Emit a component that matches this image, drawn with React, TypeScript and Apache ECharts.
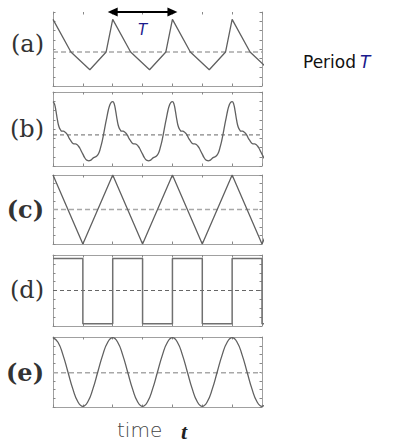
import React, { useEffect, useRef } from "react";
import * as echarts from "echarts";

// time axis in units of the period T
const X_MIN = 0;
const X_MAX = 3.5;
const X_TICK = 0.5;
const periodStarts = [0, 1, 2, 3];

const panelLabels = ["(a)", "(b)", "(c)", "(d)", "(e)"];
const panelLabelBold = [false, false, true, false, true];

// (a) sawtooth-like wave, one period (phase, value)
const phaseA = [0, 0.3, 0.617, 0.89];
const valueA = [0.9, 0.46, 0.22, 0.46];
const meanA = 0.46;

// (b) smooth wave, one period
const phaseB = [
  0, 0.025, 0.05, 0.075, 0.1, 0.125, 0.15, 0.175, 0.2, 0.225, 0.25, 0.275, 0.3, 0.325,
  0.35, 0.375, 0.4, 0.425, 0.45, 0.475, 0.5, 0.525, 0.55, 0.575, 0.6, 0.625, 0.65,
  0.675, 0.7, 0.725, 0.75, 0.775, 0.8, 0.825, 0.85, 0.875, 0.9, 0.925, 0.95, 0.975,
];
const valueB = [
  0.87, 0.84, 0.74, 0.62, 0.53, 0.49, 0.47, 0.47, 0.46, 0.44, 0.41, 0.37, 0.34, 0.31,
  0.3, 0.3, 0.29, 0.27, 0.24, 0.2, 0.16, 0.12, 0.09, 0.075, 0.07, 0.075, 0.09,
  0.11, 0.12, 0.13, 0.15, 0.19, 0.26, 0.34, 0.44, 0.55, 0.65, 0.75, 0.82, 0.86,
];
const meanB = 0.42;

// (c) triangle wave
const phaseC = [0, 0.5];
const valueC = [1, 0];
const meanC = 0.5;

// (d) square wave
const phaseD = [0, 0.5, 0.5, 1];
const valueD = [0.95, 0.95, 0.03, 0.03];
const meanD = 0.5;

// (e) cosine wave
const phaseE = [0, 0.0833, 0.1667, 0.25, 0.3333, 0.4167, 0.5, 0.5833, 0.6667, 0.75, 0.8333, 0.9167];
const valueE = [0.99, 0.925, 0.745, 0.5, 0.255, 0.075, 0.01, 0.075, 0.255, 0.5, 0.745, 0.925];
const meanE = 0.49;

const waves = [
  { phase: phaseA, value: valueA, mean: meanA, smooth: false },
  { phase: phaseB, value: valueB, mean: meanB, smooth: true },
  { phase: phaseC, value: valueC, mean: meanC, smooth: false },
  { phase: phaseD, value: valueD, mean: meanD, smooth: false },
  { phase: phaseE, value: valueE, mean: meanE, smooth: true },
];

function tile(phase: number[], value: number[]) {
  const out: number[][] = [];
  periodStarts.forEach((k) => {
    phase.forEach((p, j) => out.push([k + p, value[j]]));
  });
  const last = periodStarts[periodStarts.length - 1] + 1;
  out.push([last, value[0]]);
  return out;
}

const panels = [
  { top: 12, h: 74, labelY: 44, topLine: false },
  { top: 92, h: 74, labelY: 129, topLine: true },
  { top: 175, h: 69, labelY: 209, topLine: true },
  { top: 255, h: 71, labelY: 290, topLine: true },
  { top: 337, h: 70, labelY: 372, topLine: true },
];

const dashStyles = [
  { color: "#a8a8a8", width: 1.6, type: [5, 3] },
  { color: "#666", width: 1, type: [4, 3] },
  { color: "#a8a8a8", width: 1.6, type: [5, 3] },
  { color: "#666", width: 1, type: [4, 3] },
  { color: "#a8a8a8", width: 1.6, type: [5, 3] },
];

export default function App() {
  const ref = useRef<HTMLDivElement>(null);
  useEffect(() => {
    if (!ref.current) return;
    const chart = echarts.init(ref.current, null, { renderer: "svg" });
    const GL = 53;
    const GW = 209;
    const grids: any[] = [];
    const xAxes: any[] = [];
    const yAxes: any[] = [];
    const series: any[] = [];
    const border = { color: "#a0a0a0", width: 1 };
    const tick = { inside: true, length: 2.5, lineStyle: { color: "#888", width: 1 } };
    panels.forEach((p, i) => {
      grids.push({ left: GL, top: p.top, width: GW, height: p.h, show: false });
      xAxes.push({
        type: "value", gridIndex: i, position: "bottom", min: X_MIN, max: X_MAX, interval: X_TICK,
        axisLine: { show: true, onZero: false, lineStyle: border },
        axisTick: tick, axisLabel: { show: false }, splitLine: { show: false },
      });
      xAxes.push({
        type: "value", gridIndex: i, position: "top", min: X_MIN, max: X_MAX, interval: X_TICK,
        axisLine: { show: p.topLine, onZero: false, lineStyle: border },
        axisTick: tick, axisLabel: { show: false }, splitLine: { show: false },
      });
      yAxes.push({
        type: "value", gridIndex: i, position: "left", min: 0, max: 1, interval: 0.125,
        axisLine: { show: true, onZero: false, lineStyle: border },
        axisTick: tick, axisLabel: { show: false }, splitLine: { show: false },
      });
      yAxes.push({
        type: "value", gridIndex: i, position: "right", min: 0, max: 1, interval: 0.125,
        axisLine: { show: true, onZero: false, lineStyle: border },
        axisTick: tick, axisLabel: { show: false }, splitLine: { show: false },
      });
      const w = waves[i];
      const dashSeries: any = {
        type: "line",
        xAxisIndex: 2 * i,
        yAxisIndex: 2 * i,
        data: [[X_MIN, w.mean], [X_MAX, w.mean]],
        symbol: "none",
        lineStyle: dashStyles[i],
        z: 2,
      };
      if (i === 0) {
        dashSeries.clip = false;
        dashSeries.markLine = {
          silent: true,
          symbol: ["triangle", "triangle"],
          symbolSize: [9, 10],
          lineStyle: { color: "#000", width: 2, type: "solid" },
          label: {
            show: true,
            formatter: "T",
            position: "insideMiddleBottom",
            distance: 10,
            color: "#1a1a8c",
            fontStyle: "italic",
            fontSize: 15,
            fontFamily: "DejaVu Sans",
          },
          data: [[{ coord: [1, 1] }, { coord: [2, 1] }]],
        };
      }
      series.push(dashSeries);
      series.push({
        type: "line",
        xAxisIndex: 2 * i,
        yAxisIndex: 2 * i,
        data: tile(w.phase, w.value),
        symbol: "none",
        smooth: w.smooth,
        lineStyle: { color: i === 3 ? "#707070" : "#606060", width: i === 3 ? 1.5 : 1.3 },
        z: 3,
      });
    });

    const graphic: any[] = panels.map((p, i) => ({
      type: "text",
      x: 44,
      y: p.labelY,
      style: {
        text: panelLabels[i],
        fill: "#333",
        font: `${panelLabelBold[i] ? "bold " : ""}24px 'DejaVu Serif'`,
        textAlign: "right",
        textVerticalAlign: "middle",
      },
    }));
    graphic.push(
      {
        type: "text", x: 303, y: 62,
        style: { text: "Period", fill: "#111", font: "17px 'DejaVu Sans'", textAlign: "left", textVerticalAlign: "middle" },
      },
      {
        type: "text", x: 360, y: 62,
        style: { text: "T", fill: "#1a1a8c", font: "italic 17px 'DejaVu Sans'", textAlign: "left", textVerticalAlign: "middle" },
      },
      {
        type: "text", x: 117, y: 430,
        style: { text: "time", fill: "#444", font: "300 20px 'DejaVu Sans'", textAlign: "left", textVerticalAlign: "middle" },
      },
      {
        type: "text", x: 181, y: 431,
        style: { text: "t", fill: "#222", font: "italic bold 22px 'Liberation Serif'", textAlign: "left", textVerticalAlign: "middle" },
      }
    );

    chart.setOption({
      animation: false,
      backgroundColor: "#fff",
      grid: grids,
      xAxis: xAxes,
      yAxis: yAxes,
      series,
      graphic,
    });
    return () => chart.dispose();
  }, []);
  return (
    <div
      ref={ref}
      style={{ position: "fixed", left: 0, top: 0, width: 399, height: 443 }}
    />
  );
}
